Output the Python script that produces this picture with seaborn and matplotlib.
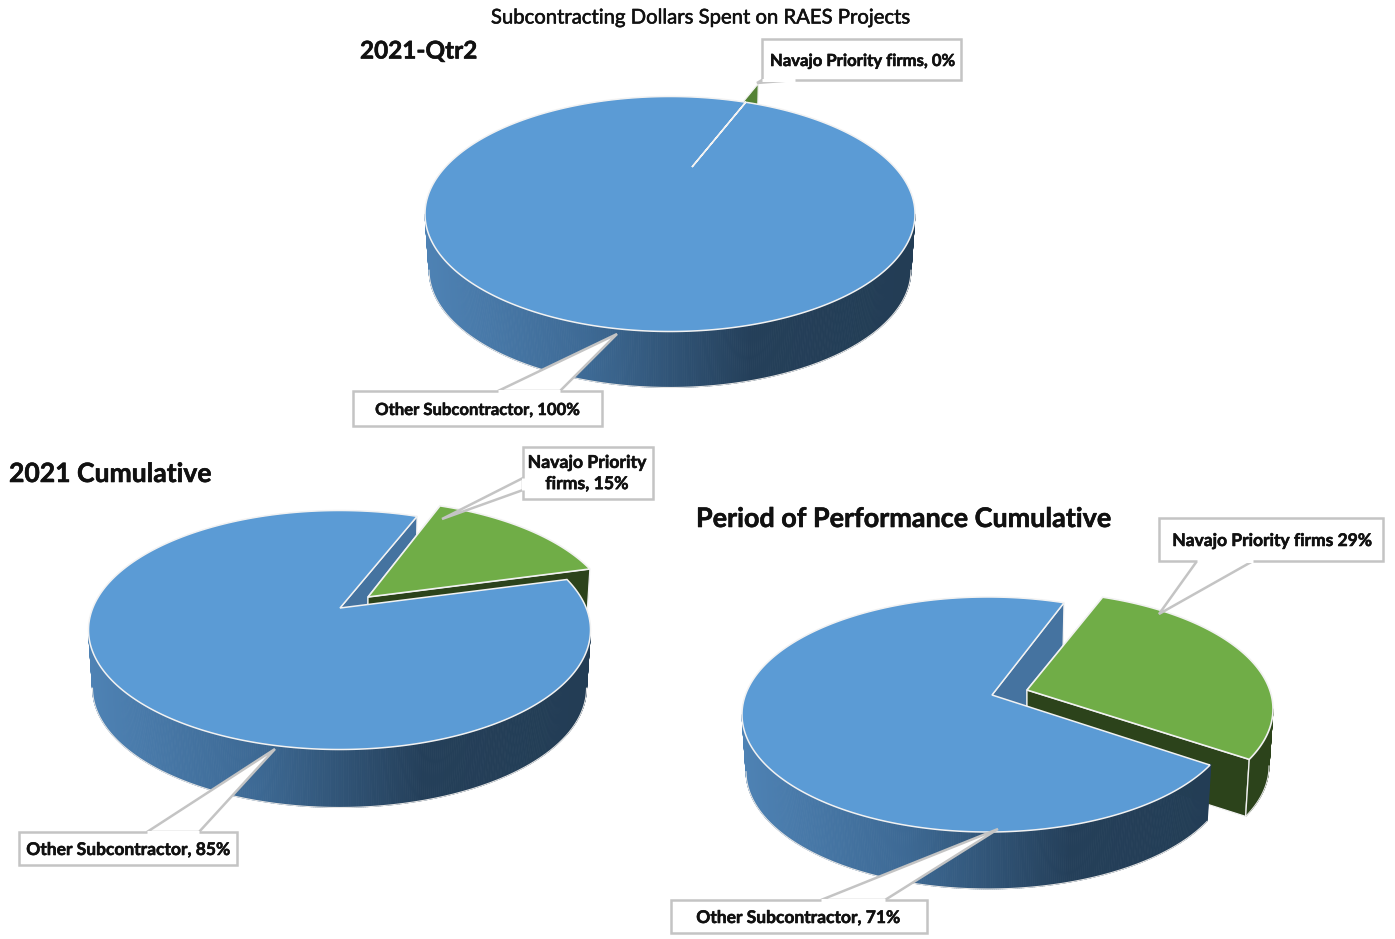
import numpy as np
import seaborn as sns
from matplotlib import pyplot as plt
from matplotlib import patheffects
from matplotlib.collections import PolyCollection
from matplotlib.patches import Polygon

# shares in percent, as labelled
PIE_TITLES = ["2021-Qtr2", "2021 Cumulative", "Period of Performance Cumulative"]
OTHER_SHARE = [100, 85, 71]
NAVAJO_SHARE = [0, 15, 29]
OTHER_LABELS = ["Other Subcontractor, 100%", "Other Subcontractor, 85%", "Other Subcontractor, 71%"]
NAVAJO_LABELS = ["Navajo Priority firms, 0%", "Navajo Priority\nfirms, 15%", "Navajo Priority firms 29%"]
MAIN_TITLE = "Subcontracting Dollars Spent on RAES Projects"

# layout in figure pixels
W, H = 1395, 939
START = 72  # angle where the green slice starts, degrees
SQUASH = 7  # perspective eats a few degrees of the slice
PIES = [
    dict(c=(670, 214), rx=245, ry=117.5, depth=56, apex=(692, 167), c_g=(682.6, 195.3), apex_g=(705, 148)),
    dict(c=(339.5, 630), rx=251, ry=119.5, depth=58, apex=(340, 608), c_g=(362.4, 619.5), apex_g=(368, 597)),
    dict(c=(988, 714.5), rx=246, ry=117.5, depth=57, apex=(992, 695), c_g=(1027, 709), apex_g=(1027, 690)),
]
TITLE_POS = [(360, 51), (9, 474), (696, 519)]
TITLE_SIZE = [17.5, 19.1, 19.4]
CALLOUTS_GREEN = [
    dict(box=(762, 39, 961, 80), base=[(795, 80), (762, 80)], tip=(757, 83), text=(862, 61), size=12),
    dict(box=(523, 447, 653, 499), base=[(523, 478), (523, 490)], tip=(442, 519), text=(587, 473), size=12.7),
    dict(box=(1159, 518, 1383, 561), base=[(1253, 561), (1197, 561)], tip=(1159, 614), text=(1272, 541), size=12.55),
]
CALLOUTS_BLUE = [
    dict(box=(353, 391, 602, 426), base=[(498, 391), (560, 391)], tip=(617, 334), text=(477, 410), size=12),
    dict(box=(19, 832, 237, 865), base=[(147, 832), (199, 832)], tip=(275, 749), text=(128, 850), size=12.55),
    dict(box=(671, 900, 927, 933), base=[(821, 900), (885, 900)], tip=(998, 829), text=(798, 918), size=12.55),
]

BLUE = "#5B9BD5"
BLUE_INNER = "#4573A0"
GREEN = "#70AD47"
GREEN_DARK = "#2C431B"
GREEN_MID = "#548235"
EDGE = "#F2F2F2"
BOX_EDGE = "#C4C4C4"
INK = "#111111"

sns.set_theme(style="white")
plt.rcParams["font.family"] = ["Lato", "DejaVu Sans"]
wall_pal = sns.blend_palette(["#4E82B4", "#3D6994", "#243F59", "#233D55"], 256)
heavy = [patheffects.withStroke(linewidth=0.4, foreground=INK)]


def top_pt(c, rx, ry, t):
    t = np.radians(t)
    return np.column_stack([c[0] + rx * np.cos(t), c[1] - ry * np.sin(t)])


def bot_pt(c, rx, ry, depth, t):
    return top_pt((c[0], c[1] + depth), rx - 4, ry, t)


def draw_wall(ax, c, rx, ry, depth, t0, t1, colors, zorder):
    # outer wall, strip by strip so the gradient can run across it
    if t1 <= t0:
        return
    ts = np.arange(t0, t1 + 0.5, 0.5)
    top = top_pt(c, rx, ry, ts)
    bot = bot_pt(c, rx, ry, depth, ts)
    quads = [[top[i], top[i + 1], bot[i + 1], bot[i]] for i in range(len(ts) - 1)]
    if isinstance(colors, str):
        cols = [colors] * len(quads)
    else:
        frac = (np.cos(np.radians(ts[:-1])) + 1) / 2
        cols = [colors[int(f * 255)] for f in frac]
    ax.add_collection(PolyCollection(quads, facecolors=cols, edgecolors=cols, linewidths=0.6, zorder=zorder))
    ax.plot(bot[:, 0], bot[:, 1], color="#E4E4E4", lw=0.8, zorder=zorder)


def radial_wall(ax, apex, end_top, end_bot, depth, color, zorder):
    pts = [apex, end_top, end_bot, (apex[0], apex[1] + depth)]
    ax.add_patch(Polygon(pts, closed=True, fc=color, ec=EDGE, lw=0.9, zorder=zorder))


def callout(ax, spec, label):
    x0, y0, x1, y1 = spec["box"]
    ax.add_patch(Polygon([*spec["base"], spec["tip"]], closed=True, fc="white", ec=BOX_EDGE, lw=1.8, zorder=8))
    ax.add_patch(Polygon([(x0, y0), (x1, y0), (x1, y1), (x0, y1)], closed=True, fc="white", ec=BOX_EDGE, lw=1.8, zorder=9))
    # hide the wedge's base line where it joins the box
    (bx0, by0), (bx1, by1) = spec["base"]
    ax.plot([bx0, bx1], [by0, by1], color="white", lw=2.2, zorder=10, solid_capstyle="butt")
    ax.text(*spec["text"], label, ha="center", va="center", fontsize=spec["size"], fontweight="bold",
            color=INK, linespacing=1.3, zorder=11, path_effects=heavy)


f = plt.figure(figsize=(W / 100, H / 100), dpi=100)
ax = f.add_axes([0, 0, 1, 1])
ax.set_xlim(0, W)
ax.set_ylim(H, 0)
ax.axis("off")

for i, p in enumerate(PIES):
    c, rx, ry, depth = p["c"], p["rx"], p["ry"], p["depth"]
    c_g, apex, apex_g = p["c_g"], p["apex"], p["apex_g"]
    sweep = max(NAVAJO_SHARE[i] * 360 / (OTHER_SHARE[i] + NAVAJO_SHARE[i]) - SQUASH, 0)

    # blue wall seen through the gap
    p72 = top_pt(c, rx, ry, START)[0]
    radial_wall(ax, apex, p72, bot_pt(c, rx, ry, depth, START)[0], depth, BLUE_INNER, 1)

    # exploded green slice
    g72 = top_pt(c_g, rx, ry, START)[0]
    radial_wall(ax, apex_g, g72, bot_pt(c_g, rx, ry, depth, START)[0], depth, GREEN_MID, 2)
    g_end = START - sweep
    if sweep > 0:
        g_ts = np.arange(g_end, START + 0.25, 0.5)
        e_top, e_bot = top_pt(c_g, rx, ry, g_end)[0], bot_pt(c_g, rx, ry, depth, g_end)[0]
        radial_wall(ax, apex_g, e_top, e_bot, depth, GREEN_DARK, 2)
        draw_wall(ax, c_g, rx, ry, depth, g_end, 0, GREEN_DARK, 2)
        if g_end < 0:
            ax.plot([e_top[0], e_bot[0]], [e_top[1], e_bot[1]], color=EDGE, lw=1.0, zorder=2)
        ax.add_patch(Polygon([apex_g, *top_pt(c_g, rx, ry, g_ts)], closed=True, fc=GREEN, ec=EDGE, lw=1.2, zorder=3))

    # blue slice, wall first and then the top face
    end = START + 360 - sweep
    draw_wall(ax, c, rx, ry, depth, 180, min(end, 360), wall_pal, 4)
    b_ts = np.arange(START, end + 0.25, 0.5)
    ax.add_patch(Polygon([apex, *top_pt(c, rx, ry, b_ts)], closed=True, fc=BLUE, ec=EDGE, lw=1.1, zorder=5))

    ax.text(*TITLE_POS[i], PIE_TITLES[i], ha="left", va="center", fontsize=TITLE_SIZE[i], fontweight="bold",
            color=INK, path_effects=heavy)
    callout(ax, CALLOUTS_GREEN[i], NAVAJO_LABELS[i])
    callout(ax, CALLOUTS_BLUE[i], OTHER_LABELS[i])

ax.text(700, 18, MAIN_TITLE, ha="center", va="center", fontsize=14.6, color=INK, path_effects=heavy)

plt.savefig("out.png", dpi=100)
